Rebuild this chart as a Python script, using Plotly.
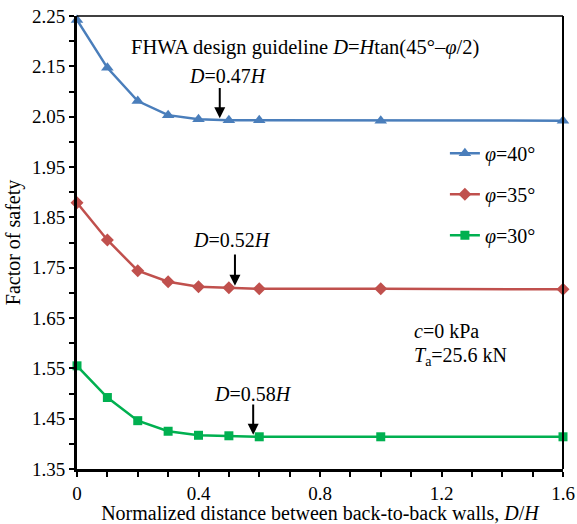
import plotly.graph_objects as go

x_vals = [0, 0.1, 0.2, 0.3, 0.4, 0.5, 0.6, 1.0, 1.6]
fs_40 = [2.242, 2.147, 2.081, 2.053, 2.045, 2.043, 2.043, 2.042, 2.042]
fs_35 = [1.879, 1.805, 1.744, 1.722, 1.712, 1.710, 1.708, 1.708, 1.707]
fs_30 = [1.555, 1.492, 1.446, 1.425, 1.417, 1.416, 1.414, 1.414, 1.414]

series_names = ["<i>φ</i>=40°", "<i>φ</i>=35°", "<i>φ</i>=30°"]
series_colors = ["#4A7EBB", "#C0504D", "#00B050"]
series_symbols = ["triangle-up", "diamond", "square"]
series_sizes = [11, 10, 9]

# guideline arrows
arrow_x = [0.47, 0.52, 0.58]
arrow_tip = [2.043, 1.710, 1.414]
arrow_tail = [2.110, 1.779, 1.481]
arrow_labels = ["<i>D</i>=0.47<i>H</i>", "<i>D</i>=0.52<i>H</i>", "<i>D</i>=0.58<i>H</i>"]
label_x = [0.497, 0.51, 0.578]
label_y = [2.130, 1.805, 1.499]

y_ticks = [1.35, 1.45, 1.55, 1.65, 1.75, 1.85, 1.95, 2.05, 2.15, 2.25]
x_ticks = [0, 0.4, 0.8, 1.2, 1.6]

FONT = "Liberation Serif"
FS = 20

fig = go.Figure()
for ys, name, col, sym, sz in zip([fs_40, fs_35, fs_30], series_names,
                                  series_colors, series_symbols, series_sizes):
    fig.add_trace(go.Scatter(
        x=x_vals, y=ys, mode="lines+markers", name=name, legendgroup=name,
        line=dict(color=col, width=2.5),
        marker=dict(symbol=sym, size=sz, color=col),
        cliponaxis=False,
    ))

for ax_, tip, tail, lab, lx, ly in zip(arrow_x, arrow_tip, arrow_tail,
                                       arrow_labels, label_x, label_y):
    fig.add_annotation(x=ax_, y=tip + 0.004, ax=ax_, ay=tail, xref="x", yref="y",
                       axref="x", ayref="y", text="", showarrow=True,
                       arrowhead=2, arrowsize=1.1, arrowwidth=2, arrowcolor="black")
    fig.add_annotation(x=lx, y=ly, xref="x", yref="y", text=lab, showarrow=False,
                       font=dict(family=FONT, size=FS, color="black"))

fig.add_annotation(x=0.469, y=0.960, xref="paper", yref="paper",
                   text="FHWA design guideline <i>D</i>=<i>H</i>tan(45°–<i>φ</i>/2)",
                   showarrow=False, font=dict(family=FONT, size=20.5, color="black"))
fig.add_annotation(x=0.689, y=0.300, xref="paper", yref="paper", xanchor="left",
                   yanchor="middle", yshift=2,
                   text="<i>c</i>=0 kPa", showarrow=False,
                   font=dict(family=FONT, size=FS, color="black"))
fig.add_annotation(x=0.689, y=0.250, xref="paper", yref="paper", xanchor="left",
                   yanchor="middle", yshift=-1,
                   text="<i>T</i><sub>a</sub>=25.6 kN", showarrow=False,
                   font=dict(family=FONT, size=FS, color="black"))

# thin top & right frame
fig.add_shape(type="line", xref="paper", yref="paper", x0=0, x1=1, y0=1, y1=1,
              line=dict(color="black", width=1.5))
fig.add_shape(type="line", xref="paper", yref="paper", x0=1, x1=1, y0=0, y1=1,
              line=dict(color="black", width=2))

fig.update_layout(
    width=577, height=524,
    margin=dict(l=77, r=14, t=16, b=55, autoexpand=False),
    paper_bgcolor="white", plot_bgcolor="white",
    font=dict(family=FONT, size=FS, color="black"),
    showlegend=True,
    legend=dict(x=0.757, y=0.74, xanchor="left", yanchor="top",
                bgcolor="rgba(0,0,0,0)", tracegroupgap=12,
                font=dict(family=FONT, size=FS)),
    xaxis=dict(range=[0, 1.6], tickvals=x_ticks, ticktext=[f"{v:g}" for v in x_ticks],
               ticks="outside", ticklen=5, tickwidth=2, tickcolor="black",
               tickfont=dict(family=FONT, size=19), automargin=False,
               minor=dict(dtick=0.1, tick0=0, ticks="outside", ticklen=5,
                          tickwidth=2, tickcolor="black"),
               showline=True, linewidth=3, linecolor="black", showgrid=False,
               zeroline=False,
               title=dict(text="Normalized distance between back-to-back walls, <i>D</i>/<i>H</i>",
                          standoff=4, font=dict(family=FONT, size=FS))),
    yaxis=dict(range=[1.35, 2.25], tickvals=y_ticks, ticktext=[f"{v:.2f}" for v in y_ticks],
               ticks="outside", ticklen=5, tickwidth=2, tickcolor="black",
               tickfont=dict(family=FONT, size=19), automargin=False,
               minor=dict(dtick=0.05, tick0=1.35, ticks="outside", ticklen=5,
                          tickwidth=2, tickcolor="black"),
               showline=True, linewidth=3, linecolor="black", showgrid=False,
               zeroline=False,
               title=dict(text="Factor of safety", standoff=6,
                          font=dict(family=FONT, size=FS))),
)

fig.write_html("out.html")
